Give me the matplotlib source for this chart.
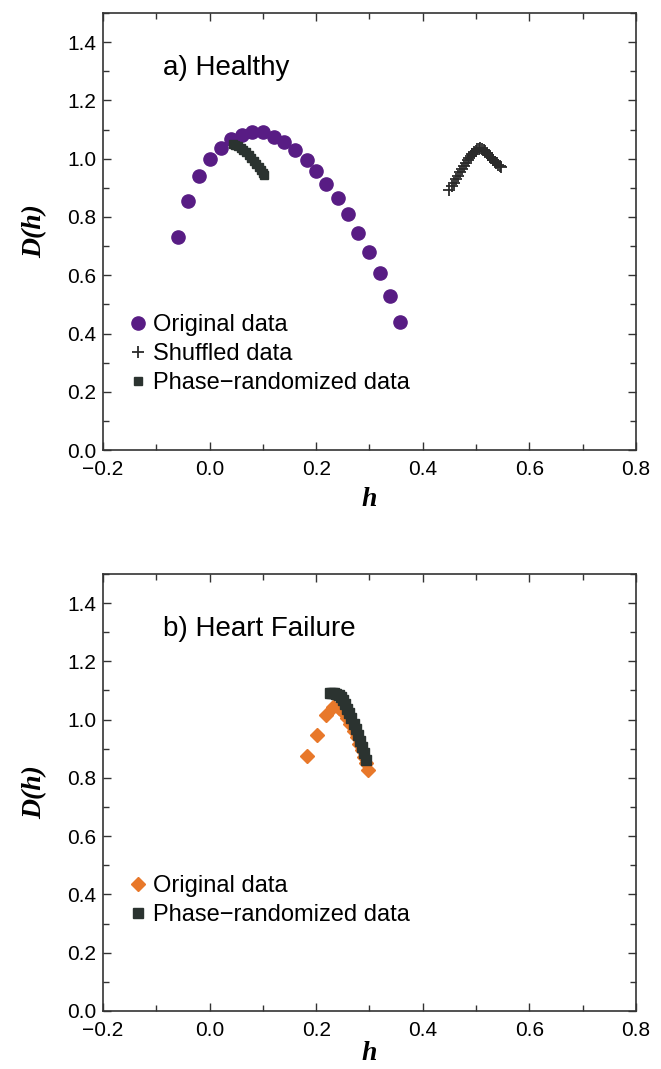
import matplotlib
matplotlib.use("Agg")
import matplotlib.pyplot as plt
from matplotlib.ticker import MultipleLocator

plt.rcParams['font.family'] = ['Liberation Sans', 'DejaVu Sans']

# a) Healthy
orig_h_x = [-0.059, -0.040, -0.020, 0.001, 0.022, 0.041, 0.061, 0.080, 0.101, 0.120, 0.140, 0.161,
            0.182, 0.200, 0.219, 0.240, 0.259, 0.279, 0.300, 0.319, 0.338, 0.358]
orig_h_y = [0.731, 0.855, 0.941, 1.000, 1.038, 1.066, 1.083, 1.090, 1.090, 1.076, 1.059, 1.031,
            0.997, 0.959, 0.914, 0.866, 0.810, 0.745, 0.679, 0.607, 0.528, 0.441]
shuf_h_x = [0.450, 0.454, 0.458, 0.462, 0.466, 0.470, 0.474, 0.478, 0.481, 0.484, 0.487, 0.490,
            0.493, 0.496, 0.499, 0.502, 0.505, 0.508, 0.511, 0.514, 0.517, 0.520, 0.523, 0.526,
            0.529, 0.532, 0.535, 0.538, 0.541, 0.544, 0.547]
shuf_h_y = [0.893, 0.906, 0.918, 0.930, 0.942, 0.954, 0.965, 0.976, 0.985, 0.994, 1.002, 1.010,
            1.017, 1.023, 1.028, 1.032, 1.035, 1.036, 1.034, 1.030, 1.025, 1.019, 1.013, 1.007,
            1.001, 0.995, 0.990, 0.985, 0.980, 0.975, 0.970]
phase_h_x = [0.044, 0.048, 0.053, 0.058, 0.063, 0.068, 0.073, 0.078, 0.083, 0.088, 0.092, 0.096, 0.100, 0.103]
phase_h_y = [1.052, 1.048, 1.043, 1.037, 1.030, 1.022, 1.013, 1.003, 0.993, 0.982, 0.972, 0.962, 0.952, 0.944]

# b) Heart Failure
orig_f_x = [0.183, 0.202, 0.219, 0.232, 0.242, 0.250, 0.257, 0.264, 0.270, 0.276, 0.281, 0.286, 0.290, 0.294, 0.297]
orig_f_y = [0.876, 0.948, 1.017, 1.045, 1.040, 1.025, 1.005, 0.985, 0.962, 0.940, 0.918, 0.895, 0.873, 0.850, 0.828]
phase_f_x = [0.226, 0.230, 0.234, 0.238, 0.242, 0.246, 0.250, 0.254, 0.258, 0.262, 0.266, 0.270,
             0.274, 0.278, 0.282, 0.286, 0.290, 0.294]
phase_f_y = [1.092, 1.092, 1.090, 1.088, 1.085, 1.078, 1.066, 1.052, 1.037, 1.021, 1.004, 0.986,
             0.967, 0.947, 0.926, 0.905, 0.884, 0.862]

purple = '#581c84'
orange = '#e8782a'
dark = '#2b3330'

fig = plt.figure(figsize=(6.61, 10.69), dpi=100)
ax1 = fig.add_axes([0.1558, 0.579, 0.8064, 0.4088])
ax2 = fig.add_axes([0.1558, 0.0543, 0.8064, 0.4088])

ax1.plot(orig_h_x, orig_h_y, 'o', color=purple, ms=9.5, mec=purple, label='Original data')
ax1.plot(shuf_h_x, shuf_h_y, '+', color='#2a2a2a', ms=8, mew=1.3, label='Shuffled data')
ax1.plot(phase_h_x, phase_h_y, 's', color=dark, ms=5.5, label='Phase\u2212randomized data')

ax2.plot(orig_f_x, orig_f_y, 'D', color=orange, ms=7.5, label='Original data')
ax2.plot(phase_f_x, phase_f_y, 's', color=dark, ms=6.5, label='Phase\u2212randomized data')

titles = ['a) Healthy', 'b) Heart Failure']
for ax, title in zip([ax1, ax2], titles):
    ax.set_xlim(-0.2, 0.8)
    ax.set_ylim(0.0, 1.5)
    ax.xaxis.set_major_locator(MultipleLocator(0.2))
    ax.xaxis.set_minor_locator(MultipleLocator(0.1))
    ax.yaxis.set_minor_locator(MultipleLocator(0.1))
    ax.set_yticks([0.0, 0.2, 0.4, 0.6, 0.8, 1.0, 1.2, 1.4])
    ax.xaxis.set_major_formatter(plt.FuncFormatter(lambda v, p: f'{v:.1f}'.replace('-', '\u2212')))
    ax.yaxis.set_major_formatter(plt.FuncFormatter(lambda v, p: f'{v:.1f}'))
    ax.tick_params(which='both', direction='in', top=True, right=True, labelsize=15,
                   color='#333333', width=1.0)
    ax.tick_params(axis='x', pad=7)
    ax.tick_params(axis='y', pad=5)
    ax.tick_params(which='major', length=6)
    ax.tick_params(which='minor', length=4)
    for s in ax.spines.values():
        s.set_linewidth(1.2)
        s.set_color('#333333')
    ax.text(-0.087, 1.31, title, fontsize=20, va='center', ha='left')
    ax.set_ylabel('D(h)', family='Liberation Serif', fontsize=20, fontweight='bold',
                  fontstyle='italic', labelpad=14)
    ax.legend(loc='upper left', bbox_to_anchor=(0.048, 0.311), frameon=False, fontsize=17,
              handlelength=0.8, handletextpad=0.25, labelspacing=0.3, borderpad=0,
              borderaxespad=0, numpoints=1)

ax1.set_xlabel('h', family='Liberation Serif', fontsize=20, fontweight='bold',
               fontstyle='italic', labelpad=6)
ax2.set_xlabel('h', family='Liberation Serif', fontsize=20, fontweight='bold',
               fontstyle='italic', labelpad=1)

fig.savefig('out.png', dpi=100)
